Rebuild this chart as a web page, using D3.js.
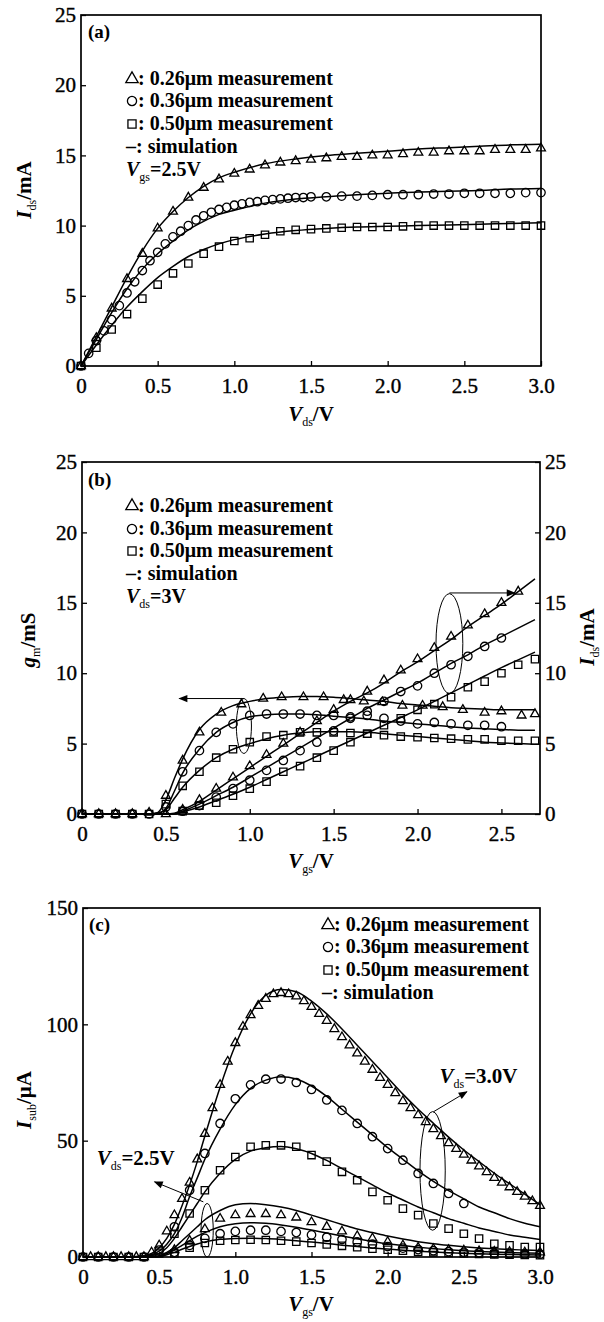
<!DOCTYPE html>
<html lang="en">
<head>
<meta charset="UTF-8"/>
<title>Ids, gm and Isub of 0.26/0.36/0.50 um devices</title>
<script src="https://d3js.org/d3.v7.min.js"></script>
<style>
	body { margin:0; background:#fff; }
	svg, svg text, svg tspan { font-family: "Liberation Serif", "Times New Roman", "DejaVu Serif", serif; }
	svg text { fill:#000; font-weight:bold; }
	.frame { fill:none; stroke:#000; stroke-width:1.7; }
	.sim { fill:none; stroke:#000; stroke-width:1.5; }
	.mark { fill:none; stroke:#000; stroke-width:1.3; }
	.axis .tick text { font-size:21px; font-weight:normal; stroke:#000; stroke-width:0.4px; }
	.axis .tick line { stroke:#000; stroke-width:1.3; }
	.note { fill:none; stroke:#000; stroke-width:1; }
	.leg { font-size:20px; }
	.tag { font-size:19px; }
	.lab { font-size:21px; }
</style>
</head>
<body>
<div id="chart"></div>
<script>
// ---------- (a) Ids vs Vds, Vgs = 2.5V ----------
var vdsA = [0,0.1,0.2,0.3,0.4,0.5,0.6,0.7,0.8,0.9,1.0,1.1,1.2,1.3,1.4,1.5,1.6,1.7,1.8,1.9,2.0,2.1,2.2,2.3,2.4,2.5,2.6,2.7,2.8,2.9,3.0];
var idsTriA = [0,2.0,4.1,6.2,8.0,9.8,11.0,12.0,12.7,13.3,13.7,14.0,14.3,14.5,14.6,14.7,14.8,14.9,14.9,15.0,15.0,15.1,15.2,15.2,15.3,15.3,15.3,15.4,15.4,15.4,15.5];
var idsSqrA = [0,1.3,2.6,3.7,4.8,5.8,6.6,7.3,8.0,8.5,8.9,9.1,9.35,9.6,9.7,9.75,9.8,9.85,9.9,9.9,9.9,9.95,10.0,10.0,10.0,10.0,10.0,10.0,10.0,10.0,10.0];
var vdsCircA = [0,0.05,0.1,0.15,0.2,0.25,0.3,0.35,0.4,0.45,0.5,0.55,0.6,0.65,0.7,0.75,0.8,0.85,0.9,0.95,1.0,1.05,1.1,1.15,1.2,1.25,1.3,1.35,1.4,1.45,1.5,1.6,1.7,1.8,1.9,2.0,2.1,2.2,2.3,2.4,2.5,2.6,2.7,2.8,2.9,3.0];
var idsCircA = [0,0.9,1.8,2.5,3.3,4.3,5.2,6.0,6.8,7.5,8.1,8.7,9.2,9.6,10.0,10.4,10.7,10.95,11.15,11.3,11.45,11.55,11.65,11.7,11.8,11.85,11.9,11.95,12.0,12.0,12.05,12.05,12.1,12.1,12.15,12.2,12.2,12.2,12.25,12.25,12.3,12.3,12.3,12.3,12.35,12.35];
var vdsSimA = [0,0.1,0.2,0.3,0.4,0.5,0.6,0.7,0.8,0.9,1.0,1.2,1.4,1.6,1.8,2.0,2.2,2.4,2.6,2.8,3.0];
var simTriA = [0,2.1,4.2,6.3,8.2,9.8,11.0,12.0,12.8,13.4,13.8,14.4,14.75,15.0,15.15,15.3,15.45,15.55,15.65,15.75,15.8];
var simCircA = [0,1.9,3.8,5.5,6.9,8.0,8.9,9.7,10.3,10.8,11.1,11.6,11.9,12.05,12.2,12.3,12.4,12.45,12.5,12.6,12.65];
var simSqrA = [0,1.5,2.9,4.2,5.3,6.3,7.1,7.8,8.3,8.7,9.0,9.4,9.65,9.8,9.9,9.95,10.0,10.05,10.1,10.15,10.2];

// ---------- (b) gm and Ids vs Vgs, Vds = 3V ----------
var vgsTriGmB = [0,0.1,0.2,0.3,0.4,0.5,0.6,0.7,0.83,0.95,1.08,1.19,1.32,1.44,1.56,1.68,1.79,1.91,2.03,2.15,2.27,2.4,2.5,2.62,2.7];
var gmTriB = [0,0,0,0,0.1,1.3,3.8,5.8,7.2,7.8,8.2,8.3,8.3,8.3,8.1,8.0,7.95,7.7,7.7,7.6,7.4,7.2,7.3,7.0,7.1];
var vgsCircGmB = [0,0.1,0.2,0.3,0.4,0.5,0.6,0.7,0.8,0.9,1.0,1.1,1.2,1.3,1.4,1.5,1.6,1.7,1.8,1.9,2.0,2.1,2.2,2.3,2.4,2.5];
var gmCircB = [0,0,0,0,0,0.5,3.0,4.5,5.8,6.4,7.0,7.1,7.1,7.1,7.0,7.0,6.9,7.0,6.8,6.6,6.4,6.5,6.4,6.3,6.3,6.2];
var vgsSqrGmB = [0,0.1,0.2,0.3,0.4,0.5,0.6,0.7,0.8,0.9,1.0,1.1,1.2,1.3,1.4,1.5,1.6,1.7,1.8,1.9,2.0,2.1,2.2,2.3,2.4,2.5,2.6,2.7];
var gmSqrB = [0,0,0,0,0,0.7,2.0,3.0,4.0,4.6,5.1,5.5,5.6,5.8,5.8,5.8,5.75,5.7,5.6,5.5,5.45,5.4,5.35,5.3,5.3,5.2,5.2,5.2];
var vgsTriIdsB = [0.5,0.6,0.7,0.8,0.9,1.0,1.1,1.2,1.3,1.4,1.5,1.6,1.7,1.8,1.9,2.0,2.1,2.2,2.3,2.4,2.5,2.6];
var idsTriB = [0,0.3,1.0,1.8,2.6,3.4,4.2,5.0,5.8,6.6,7.4,8.1,8.7,9.5,10.2,11.0,11.8,12.6,13.4,14.2,15.0,15.8];
var vgsCircIdsB = [0.6,0.7,0.8,0.9,1.0,1.1,1.2,1.3,1.4,1.5,1.6,1.7,1.8,1.9,2.0,2.1,2.2,2.3,2.4,2.5];
var idsCircB = [0.2,0.6,1.2,1.8,2.4,3.1,3.8,4.5,5.1,5.9,6.8,7.3,8.0,8.7,9.1,10.0,10.6,11.2,11.9,12.5];
var vgsSqrIdsB = [0.6,0.7,0.8,0.9,1.0,1.1,1.2,1.3,1.4,1.5,1.6,1.7,1.8,1.9,2.0,2.1,2.2,2.3,2.4,2.5,2.6,2.7];
var idsSqrB = [0.2,0.6,0.8,1.3,1.8,2.3,3.0,3.4,4.0,4.5,5.1,5.7,6.3,6.8,7.4,7.8,8.3,9.0,9.4,10.0,10.6,11.0];
var vgsSimB = [0,0.1,0.2,0.3,0.4,0.45,0.5,0.55,0.6,0.7,0.8,0.9,1.0,1.1,1.2,1.3,1.4,1.5,1.6,1.7,1.8,1.9,2.0,2.1,2.2,2.3,2.4,2.5,2.6,2.7];
var gmSim026 = [0,0,0,0,0,0.1,1.0,2.5,3.9,6.0,7.1,7.7,8.0,8.2,8.3,8.35,8.35,8.3,8.2,8.1,8.0,7.85,7.75,7.65,7.55,7.5,7.45,7.4,7.4,7.4];
var gmSim036 = [0,0,0,0,0,0.05,0.4,1.6,2.9,4.6,5.8,6.5,6.9,7.05,7.1,7.1,7.05,6.95,6.85,6.75,6.6,6.5,6.4,6.3,6.2,6.1,6.05,6.0,5.95,5.95];
var gmSim050 = [0,0,0,0,0,0.05,0.3,1.1,1.9,3.1,4.0,4.6,5.0,5.35,5.6,5.75,5.85,5.85,5.85,5.8,5.7,5.6,5.5,5.4,5.3,5.2,5.1,5.05,5.0,4.95];
var idsSim026 = [0,0,0,0,0,0,0,0.05,0.3,0.9,1.7,2.5,3.3,4.1,4.9,5.7,6.5,7.3,8.0,8.6,9.3,10.1,10.8,11.6,12.4,13.3,14.1,14.9,15.8,16.7];
var idsSim036 = [0,0,0,0,0,0,0,0,0.2,0.7,1.3,1.9,2.6,3.3,4.0,4.7,5.4,6.1,6.8,7.5,8.1,8.7,9.3,10.0,10.7,11.3,12.0,12.6,13.2,13.8];
var idsSim050 = [0,0,0,0,0,0,0,0,0.15,0.5,0.95,1.4,1.9,2.45,3.0,3.55,4.1,4.65,5.2,5.75,6.3,6.85,7.4,8.0,8.6,9.2,9.8,10.4,10.95,11.5];

// ---------- (c) Isub vs Vgs, Vds = 3.0V and 2.5V ----------
var vgsTriC30 = [0,0.05,0.1,0.15,0.2,0.25,0.3,0.35,0.4,0.45,0.5,0.55,0.6,0.65,0.7,0.75,0.8,0.85,0.9,0.95,1.0,1.05,1.1,1.15,1.2,1.25,1.3,1.35,1.4,1.45,1.5,1.55,1.6,1.65,1.7,1.75,1.8,1.85,1.9,1.95,2.0,2.05,2.1,2.15,2.2,2.25,2.3,2.35,2.4,2.45,2.5,2.55,2.6,2.65,2.7,2.75,2.8,2.85,2.9,2.95,3.0];
var isubTri30 = [0,0,0,0,0,0,0,0,0,2,5,11,18,25,32,42,53,64,74,84,92,99,104,108,111,113,113.5,113,112,110,107.5,104.5,101.5,98,94.5,91,87.5,84,80.5,77,74,70.5,67,64,61,58,55,52,49,46.5,44,41.5,39,36.5,34,32,30,28,26,24,22];
var vgsCircC30 = [0,0.1,0.2,0.3,0.4,0.5,0.6,0.7,0.8,0.9,1.0,1.1,1.2,1.3,1.4,1.5,1.6,1.7,1.8,1.9,2.0,2.1,2.2,2.3,2.4,2.5];
var isubCirc30 = [0,0,0,0,0,3,13,28.7,44.5,57.4,68,74,76.4,76.5,75,72,67.5,63,57.4,51.7,46.6,41.6,35.9,31.6,27.3,23];
var vgsSqrC30 = [0,0.1,0.2,0.3,0.4,0.5,0.6,0.7,0.8,0.9,1.0,1.1,1.2,1.3,1.4,1.5,1.6,1.7,1.8,1.9,2.0,2.1,2.2,2.3,2.4,2.5,2.6,2.7,2.8,2.9,3.0];
var isubSqr30 = [0,0,0,0,0,1.5,10,18.7,28.7,37.3,43,47.4,48,48,47.4,43.8,41,36.6,33,28,24.4,20.8,18,14.4,12.2,10,7.9,5.7,5,4.3,4.3];
var vgsC25 = [0.6,0.7,0.8,0.9,1.0,1.1,1.2,1.3,1.4,1.5,1.6,1.7,1.8,1.9,2.0,2.1,2.2,2.3,2.4,2.5,2.6,2.7,2.8,2.9,3.0];
var isubTri25 = [3,7,12,16.5,18,18.5,18.5,18,17,15,13,11,9,8,6.5,5,4,3.5,3,2.8,2.5,2.3,2.2,2.0,2.0];
var isubCirc25 = [2,5,8,10,11,11.5,11.5,11,10.5,9.5,8.5,7.5,6.5,5.5,4.5,3.8,3.2,2.7,2.3,2.0,1.8,1.6,1.4,1.3,1.2];
var isubSqr25 = [1.5,4,6,7,7.3,7.4,7.3,7,6.6,6,5.4,4.8,4.2,3.6,3.1,2.7,2.3,2.0,1.7,1.5,1.3,1.1,1.0,0.9,0.8];
var vgsSimC = [0,0.1,0.2,0.3,0.4,0.45,0.5,0.55,0.6,0.65,0.7,0.75,0.8,0.9,1.0,1.1,1.2,1.3,1.4,1.5,1.6,1.7,1.8,1.9,2.0,2.1,2.2,2.3,2.4,2.5,2.6,2.7,2.8,2.9,3.0];
var simTri30 = [0,0,0,0,0.5,1.5,4,8,14,22,31,41,52,73,91,104.5,112.5,115,114,110,104.5,98,91,84,77,70,63.5,57.5,51.5,46,41,36,31.5,27,22.5];
var simCirc30 = [0,0,0,0,0.3,1,2.5,5.5,10,17,26,34,42,55,65.5,72.5,76,77.5,76.5,73.5,69,63.5,58,52.5,47,42,37,32.5,28.5,25,21.5,19,16.5,14.5,13];
var simSqr30 = [0,0,0,0,0.2,0.6,1.5,4,8,13,18,23,28,36,42,45.5,47,47.5,46.5,44.5,41.5,38,34.5,31,27.5,24.5,21.5,19,16.5,14.5,12.5,11,9.5,8.5,7.5];
var simTri25 = [0,0,0,0,0,0.1,0.5,2,4,7,10,13,16,20,22.5,23,22.5,21.5,20,18,16,14,12,10.5,9,7.7,6.6,5.7,5,4.4,3.9,3.5,3.2,3.0,2.8];
var simCirc25 = [0,0,0,0,0,0.05,0.3,1.5,3,5,7,9,10.5,13,14.3,14.7,14.5,13.8,12.8,11.6,10.3,9,7.8,6.7,5.7,4.9,4.2,3.6,3.1,2.7,2.4,2.1,1.9,1.7,1.6];
var simSqr25 = [0,0,0,0,0,0,0.2,1,2,3.3,4.5,5.6,6.5,7.6,8,8.1,7.9,7.5,7,6.4,5.8,5.1,4.5,3.9,3.4,2.9,2.5,2.1,1.8,1.6,1.4,1.2,1.1,1.0,0.9];

// ticks and legend text
var ticksV30 = [0,0.5,1.0,1.5,2.0,2.5,3.0];
var ticksV25 = [0,0.5,1.0,1.5,2.0,2.5];
var ticks25 = [0,5,10,15,20,25];
var ticks150 = [0,50,100,150];
var legendNames = ["0.26μm measurement","0.36μm measurement","0.50μm measurement"];
var legendShapes = ["tri","circ","sqr"];

var serif = "'Liberation Serif', 'Times New Roman', 'DejaVu Serif', serif";
var w = 604, h = 1322;
var svg = d3.select("#chart").append("svg")
	.attr("width", w).attr("height", h)
	.attr("font-family", serif);

svg.append("defs").append("marker")
	.attr("id","arrow").attr("viewBox","0 0 10 10")
	.attr("refX",9).attr("refY",5)
	.attr("markerWidth",11).attr("markerHeight",9)
	.attr("markerUnits","userSpaceOnUse").attr("orient","auto")
	.append("path").attr("d","M0,1 L10,5 L0,9 Z").attr("fill","#000");

var shapes = {tri: d3.symbolTriangle, circ: d3.symbolCircle, sqr: d3.symbolSquare};
var sizes = {tri: 34, circ: 56, sqr: 54};

var fmtV = function(d){ return d === 0 ? "0" : d.toFixed(1); };

function zip(xs, ys){
	return xs.map(function(v, i){ return {x: v, y: ys[i]}; });
}

function drawPanel(p){
	var g = svg.append("g");
	var x = d3.scaleLinear().domain(p.xDomain).range([p.left, p.right]);
	var y = d3.scaleLinear().domain(p.yDomain).range([p.bottom, p.top]);

	g.append("rect").attr("class","frame")
		.attr("x",p.left).attr("y",p.top)
		.attr("width",p.right-p.left).attr("height",p.bottom-p.top);

	var ax = g.append("g").attr("class","axis")
		.attr("transform","translate(0,"+p.bottom+")")
		.call(d3.axisBottom(x).tickValues(p.xTicks).tickFormat(fmtV)
			.tickSizeInner(-5).tickSizeOuter(0).tickPadding(12));
	ax.select(".domain").remove();

	var ay = g.append("g").attr("class","axis")
		.attr("transform","translate("+p.left+",0)")
		.call(d3.axisLeft(y).tickValues(p.yTicks).tickFormat(d3.format("d"))
			.tickSizeInner(-5).tickSizeOuter(0).tickPadding(5));
	ay.select(".domain").remove();

	if (p.rightAxis) {
		var ar = g.append("g").attr("class","axis")
			.attr("transform","translate("+p.right+",0)")
			.call(d3.axisRight(y).tickValues(p.yTicks).tickFormat(d3.format("d"))
				.tickSizeInner(-5).tickSizeOuter(0).tickPadding(5));
		ar.select(".domain").remove();
	}
	g.selectAll(".axis").attr("font-family", serif);
	return {g: g, x: x, y: y};
}

function sim(P, xs, ys){
	var line = d3.line()
		.x(function(d){ return P.x(d.x); })
		.y(function(d){ return P.y(d.y); })
		.curve(d3.curveMonotoneX);
	P.g.append("path").datum(zip(xs, ys)).attr("class","sim").attr("d", line);
}

function marks(P, xs, ys, shape){
	P.g.selectAll(null).data(zip(xs, ys)).enter()
		.append("path").attr("class","mark")
		.attr("transform", function(d){ return "translate("+P.x(d.x)+","+P.y(d.y)+")"; })
		.attr("d", d3.symbol().type(shapes[shape]).size(sizes[shape]));
}

// text with italic letters and subscripts: parts = [[text, "i" | "sub" | ""]]
function rich(t, parts){
	var down = false;
	parts.forEach(function(p){
		var s = t.append("tspan").text(p[0]);
		if (p[1] === "i") s.attr("font-style","italic");
		if (p[1] === "sub") { s.attr("font-size","12px").attr("font-weight","normal").attr("dy",5); down = true; }
		else if (down) { s.attr("dy",-5); down = false; }
	});
	return t;
}

function legend(P, x0, ys){
	legendShapes.forEach(function(s, i){
		P.g.append("path").attr("class","mark")
			.attr("transform","translate("+x0+","+ys[i]+")")
			.attr("d", d3.symbol().type(shapes[s]).size(66));
		P.g.append("text").attr("class","leg")
			.attr("x", x0+6).attr("y", ys[i]+6)
			.text(": "+legendNames[i]);
	});
	P.g.append("text").attr("class","leg")
		.attr("x", x0-6).attr("y", ys[3]+6).text("–: simulation");
}

function ellipse(P, cx, cy, rx, ry){
	P.g.append("ellipse").attr("class","note")
		.attr("cx", P.x(cx)).attr("cy", P.y(cy))
		.attr("rx", Math.abs(P.x(rx)-P.x(0))).attr("ry", Math.abs(P.y(0)-P.y(ry)));
}

function arrow(P, x1, y1, x2, y2){
	P.g.append("line").attr("class","note")
		.attr("x1",P.x(x1)).attr("y1",P.y(y1))
		.attr("x2",P.x(x2)).attr("y2",P.y(y2))
		.attr("marker-end","url(#arrow)");
}

// ---------------- panel (a) ----------------
var A = drawPanel({left:81, right:541, top:15, bottom:366,
	xDomain:[0,3], yDomain:[0,25], xTicks:ticksV30, yTicks:ticks25});
sim(A, vdsSimA, simTriA);
sim(A, vdsSimA, simCircA);
sim(A, vdsSimA, simSqrA);
marks(A, vdsA, idsTriA, "tri");
marks(A, vdsCircA, idsCircA, "circ");
marks(A, vdsA, idsSqrA, "sqr");
A.g.append("text").attr("class","tag").attr("x",88).attr("y",38).text("(a)");
legend(A, 132, [79,101,124,147]);
rich(A.g.append("text").attr("class","leg").attr("x",126).attr("y",176),
	[["V","i"],["gs","sub"],["=2.5V",""]]);
rich(A.g.append("text").attr("class","lab").attr("text-anchor","middle")
	.attr("transform","translate(31,190) rotate(-90)"),
	[["I","i"],["ds","sub"],["/mA",""]]);
rich(A.g.append("text").attr("class","lab").attr("text-anchor","middle")
	.attr("x",311).attr("y",421),
	[["V","i"],["ds","sub"],["/V",""]]);

// ---------------- panel (b) ----------------
var B = drawPanel({left:82, right:540, top:462, bottom:814,
	xDomain:[0,2.73], yDomain:[0,25], xTicks:ticksV25, yTicks:ticks25, rightAxis:true});
sim(B, vgsSimB, gmSim026);
sim(B, vgsSimB, gmSim036);
sim(B, vgsSimB, gmSim050);
sim(B, vgsSimB, idsSim026);
sim(B, vgsSimB, idsSim036);
sim(B, vgsSimB, idsSim050);
marks(B, vgsTriGmB, gmTriB, "tri");
marks(B, vgsCircGmB, gmCircB, "circ");
marks(B, vgsSqrGmB, gmSqrB, "sqr");
marks(B, vgsTriIdsB, idsTriB, "tri");
marks(B, vgsCircIdsB, idsCircB, "circ");
marks(B, vgsSqrIdsB, idsSqrB, "sqr");
ellipse(B, 0.965, 6.25, 0.045, 1.95);
arrow(B, 0.965, 8.2, 0.58, 8.2);
ellipse(B, 2.19, 12.1, 0.08, 3.55);
arrow(B, 2.19, 15.7, 2.58, 15.7);
B.g.append("text").attr("class","tag").attr("x",88).attr("y",486).text("(b)");
legend(B, 132, [506,529,551,574]);
rich(B.g.append("text").attr("class","leg").attr("x",126).attr("y",603),
	[["V","i"],["ds","sub"],["=3V",""]]);
rich(B.g.append("text").attr("class","lab").attr("text-anchor","middle")
	.attr("transform","translate(35,640) rotate(-90)"),
	[["g","i"],["m","sub"],["/mS",""]]);
rich(B.g.append("text").attr("class","lab").attr("text-anchor","middle")
	.attr("transform","translate(594,637) rotate(-90)"),
	[["I","i"],["ds","sub"],["/mA",""]]);
rich(B.g.append("text").attr("class","lab").attr("text-anchor","middle")
	.attr("x",311).attr("y",868),
	[["V","i"],["gs","sub"],["/V",""]]);

// ---------------- panel (c) ----------------
var C = drawPanel({left:83, right:540, top:908, bottom:1257,
	xDomain:[0,3], yDomain:[0,150], xTicks:ticksV30, yTicks:ticks150});
sim(C, vgsSimC, simTri30);
sim(C, vgsSimC, simCirc30);
sim(C, vgsSimC, simSqr30);
sim(C, vgsSimC, simTri25);
sim(C, vgsSimC, simCirc25);
sim(C, vgsSimC, simSqr25);
marks(C, vgsTriC30, isubTri30, "tri");
marks(C, vgsCircC30, isubCirc30, "circ");
marks(C, vgsSqrC30, isubSqr30, "sqr");
marks(C, vgsC25, isubTri25, "tri");
marks(C, vgsC25, isubCirc25, "circ");
marks(C, vgsC25, isubSqr25, "sqr");
ellipse(C, 2.295, 37, 0.083, 25.5);
arrow(C, 2.3, 62.4, 2.52, 71);
ellipse(C, 0.815, 11.5, 0.04, 11.5);
arrow(C, 0.79, 23.7, 0.47, 32.3);
rich(C.g.append("text").attr("class","lab").attr("x",C.x(2.34)).attr("y",C.y(75)),
	[["V","i"],["ds","sub"],["=3.0V",""]]);
rich(C.g.append("text").attr("class","lab").attr("x",C.x(0.09)).attr("y",C.y(39.5)),
	[["V","i"],["ds","sub"],["=2.5V",""]]);
C.g.append("text").attr("class","tag").attr("x",89).attr("y",931).text("(c)");
legend(C, 328, [925,947,970,993]);
rich(C.g.append("text").attr("class","lab").attr("text-anchor","middle")
	.attr("transform","translate(31,1100) rotate(-90)"),
	[["I","i"],["sub","sub"],["/μA",""]]);
rich(C.g.append("text").attr("class","lab").attr("text-anchor","middle")
	.attr("x",311).attr("y",1311),
	[["V","i"],["gs","sub"],["/V",""]]);
</script>
</body>
</html>
